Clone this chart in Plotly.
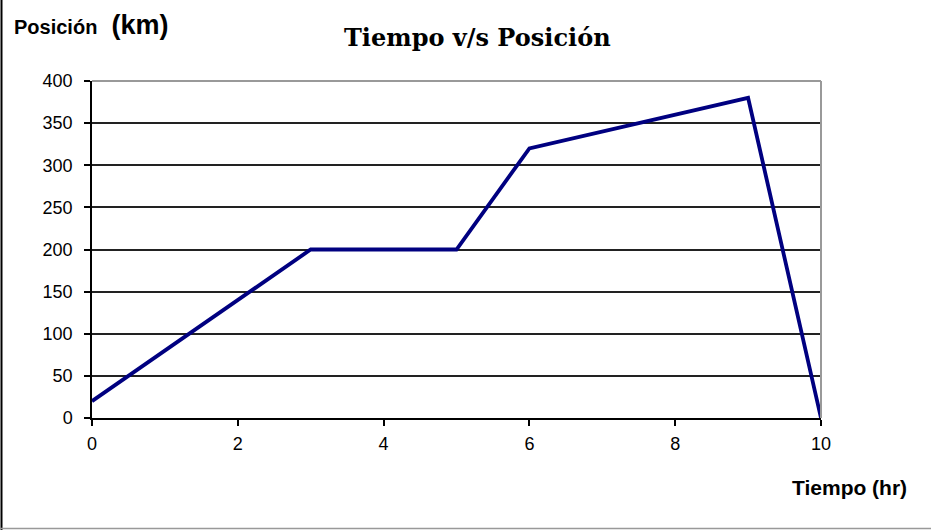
import plotly.graph_objects as go

tiempo = [0, 3, 5, 6, 9, 10]
posicion = [20, 200, 200, 320, 380, 0]
x_ticks = [0, 2, 4, 6, 8, 10]
y_ticks = [0, 50, 100, 150, 200, 250, 300, 350, 400]

W, H = 931, 530
L, R, T, B = 92, 110, 81, 112
pw, ph = W - L - R, H - T - B

def px(x):
    return (x - L) / pw

def py(y):
    return (H - B - y) / ph

SANS = "Liberation Sans, Arial, sans-serif"

fig = go.Figure()
fig.add_trace(go.Scatter(x=tiempo, y=posicion, mode="lines",
                         line=dict(color="#000080", width=3.8), showlegend=False))

fig.update_layout(
    width=W, height=H,
    margin=dict(l=L, r=R, t=T, b=B),
    paper_bgcolor="white", plot_bgcolor="white",
    font=dict(family=SANS, size=17, color="black"),
    xaxis=dict(range=[0, 10], tickvals=x_ticks, showgrid=False, zeroline=False,
               showline=True, linecolor="black", linewidth=1.5,
               ticks="outside", ticklen=6, tickcolor="black", tickwidth=1.5,
               ticklabelstandoff=3, tickfont=dict(size=18)),
    yaxis=dict(range=[0, 400], tickvals=y_ticks, showgrid=True, gridcolor="#222222",
               gridwidth=1.5, zeroline=False,
               showline=True, linecolor="black", linewidth=1.5,
               ticks="outside", ticklen=6, tickcolor="black", tickwidth=1.5,
               ticklabelstandoff=8, tickfont=dict(size=18)),
    shapes=[
        dict(type="line", xref="paper", yref="paper", x0=0, x1=1, y0=1, y1=1,
             line=dict(color="#999999", width=2)),
        dict(type="line", xref="paper", yref="paper", x0=1, x1=1, y0=0, y1=1,
             line=dict(color="#999999", width=2)),
        dict(type="line", xref="paper", yref="paper", x0=px(1.5), x1=px(1.5), y0=py(0), y1=py(H),
             line=dict(color="black", width=2)),
        dict(type="line", xref="paper", yref="paper", x0=px(0), x1=px(W), y0=py(528.5), y1=py(528.5),
             line=dict(color="#999999", width=1.5)),
    ],
    annotations=[
        dict(text="<b>Tiempo v/s Posición</b>", xref="paper", yref="paper", x=px(478), y=py(38),
             xanchor="center", yanchor="middle", showarrow=False,
             font=dict(family="DejaVu Serif, Liberation Serif, serif", size=24, color="black")),
        dict(text="<b><span style='font-size:20px'>Posición</span>&nbsp;&nbsp;&nbsp;<span style='font-size:27px'>(km)</span></b>",
             xref="paper", yref="paper", x=px(12), y=py(25), xanchor="left", yanchor="middle",
             showarrow=False, font=dict(family=SANS, color="black")),
        dict(text="<b>Tiempo (hr)</b>", xref="paper", yref="paper", x=px(909), y=py(487),
             xanchor="right", yanchor="middle", showarrow=False,
             font=dict(family=SANS, size=21, color="black")),
    ],
)

fig.write_html("out.html", config={"displayModeBar": False},
               post_script="document.body.style.margin='0';document.body.style.padding='0';")
